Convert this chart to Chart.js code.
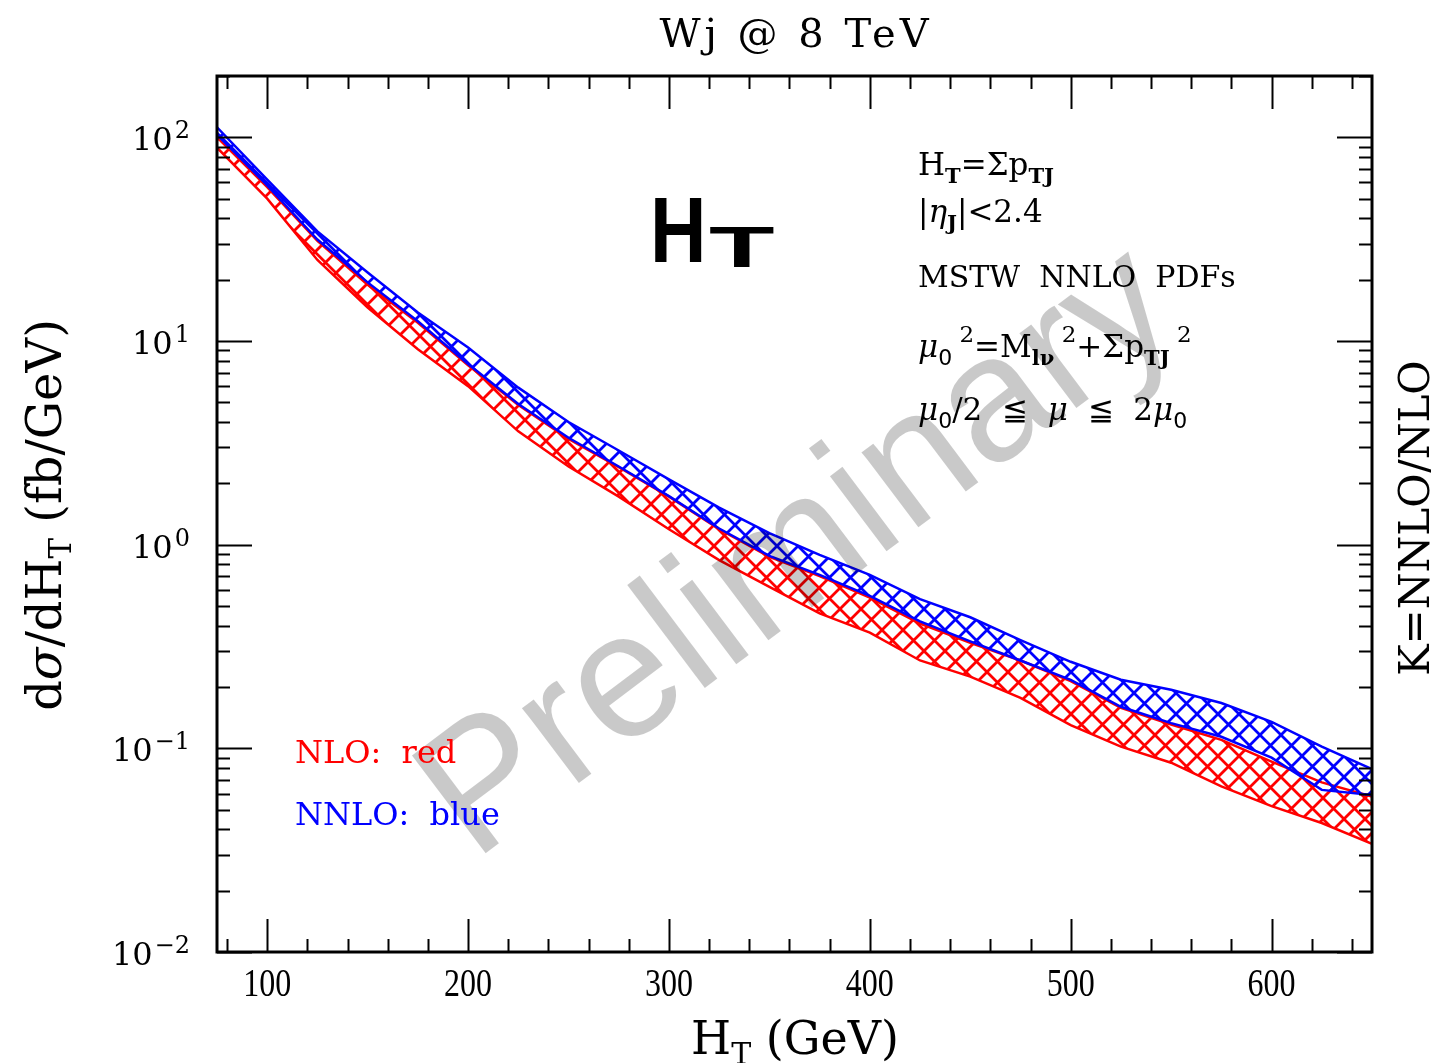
<!DOCTYPE html>
<html>
<head>
<meta charset="utf-8">
<title>Wj @ 8 TeV</title>
<script src="https://cdn.jsdelivr.net/npm/chart.js@4.4.1/dist/chart.umd.min.js"></script>
<style>
  html, body { margin: 0; padding: 0; background: #fff; }
  canvas { display: block; }
</style>
</head>
<body>
<canvas id="ht" width="1431" height="1063"></canvas>
<script>
// H_T nodes (GeV) and the scale-variation envelopes (fb/GeV)
const htPoints = [75, 100, 125, 150, 175, 200, 225, 250, 275, 300, 325, 350,
                  375, 400, 425, 450, 475, 500, 525, 550, 575, 600, 625, 650];
const nnloHigh = [112, 62, 34.5, 21.7, 13.8, 9.3, 5.9, 4.0, 2.9, 2.09, 1.52, 1.14,
                  0.89, 0.71, 0.54, 0.44, 0.34, 0.266, 0.217, 0.194, 0.167, 0.135, 0.102, 0.079];
const nnloLow  = [103, 58, 31.5, 19.4, 12.5, 7.7, 4.9, 3.35, 2.42, 1.73, 1.2, 0.88,
                  0.71, 0.56, 0.42, 0.335, 0.27, 0.217, 0.16, 0.133, 0.114, 0.09, 0.0625, 0.059];
const nloHigh  = [100, 57, 31, 18.9, 12.3, 7.6, 4.85, 3.3, 2.4, 1.72, 1.19, 0.87,
                  0.7, 0.55, 0.41, 0.33, 0.27, 0.214, 0.158, 0.131, 0.11, 0.086, 0.068, 0.058];
const nloLow   = [89, 50, 25, 14.6, 9.1, 6.0, 3.6, 2.42, 1.72, 1.19, 0.84, 0.62,
                  0.46, 0.37, 0.27, 0.225, 0.177, 0.13, 0.102, 0.085, 0.065, 0.052, 0.043, 0.034];

const xTickLabels = [100, 200, 300, 400, 500, 600];
const yDecades = [-2, -1, 0, 1, 2];

const RED = '#ff0000';
const BLUE = '#0000ff';
const SERIF = '"DejaVu Serif"';

function pts(ys) {
    return htPoints.map((x, i) => ({ x: x, y: ys[i] }));
}

// 45 degree cross hatch used to fill the bands
function hatch(color) {
    const s = 21;
    const c = document.createElement('canvas');
    c.width = s;
    c.height = s;
    const g = c.getContext('2d');
    g.strokeStyle = color;
    g.lineWidth = 2.8;
    for (const k of [-s, 0, s]) {
        g.beginPath();
        g.moveTo(k, 0);
        g.lineTo(k + s, s);
        g.moveTo(k + s, 0);
        g.lineTo(k, s);
        g.stroke();
    }
    return g.createPattern(c, 'repeat');
}

// draws a list of [text, font, dy] pieces one after another
function runs(ctx, x, y, parts) {
    for (const [t, f, dy] of parts) {
        ctx.font = f;
        ctx.fillText(t, x, y + (dy || 0));
        x += ctx.measureText(t).width;
    }
    return x;
}

function runsWidth(ctx, parts) {
    let w = 0;
    for (const [t, f] of parts) {
        ctx.font = f;
        w += ctx.measureText(t).width;
    }
    return w;
}

function seg(ctx, x1, y1, x2, y2) {
    ctx.beginPath();
    ctx.moveTo(x1, y1);
    ctx.lineTo(x2, y2);
    ctx.stroke();
}

const watermark = {
    id: 'watermark',
    afterDatasetsDraw(chart) {
        const ctx = chart.ctx;
        ctx.save();
        ctx.translate(800, 555);
        ctx.rotate(-37 * Math.PI / 180);
        ctx.font = '178px "Liberation Sans"';
        ctx.fillStyle = 'rgba(0,0,0,0.21)';
        ctx.textAlign = 'center';
        ctx.textBaseline = 'middle';
        ctx.fillText('Preliminary', 0, 0);
        ctx.restore();
    }
};

const frame = {
    id: 'frame',
    afterDraw(chart) {
        const ctx = chart.ctx;
        const { left, right, top, bottom } = chart.chartArea;
        const xs = chart.scales.x;
        const ys = chart.scales.y;
        ctx.save();
        ctx.strokeStyle = '#000';
        ctx.fillStyle = '#000';

        // inward ticks on all four sides
        ctx.lineWidth = 2;
        for (let v = 80; v <= 640; v += 20) {
            const px = Math.round(xs.getPixelForValue(v)) + 0.5;
            const len = v % 100 === 0 ? 33 : 13;
            seg(ctx, px, bottom, px, bottom - len);
            seg(ctx, px, top, px, top + len);
        }
        for (const d of yDecades) {
            for (let m = 1; m <= 9; m++) {
                const v = m * Math.pow(10, d);
                if (v > ys.max) break;
                const py = Math.round(ys.getPixelForValue(v)) + 0.5;
                const len = m === 1 ? 35 : 13;
                seg(ctx, left, py, left + len, py);
                seg(ctx, right, py, right - len, py);
            }
        }
        ctx.lineWidth = 3;
        ctx.strokeRect(left, top, right - left, bottom - top);

        // x tick labels
        ctx.textBaseline = 'alphabetic';
        ctx.textAlign = 'center';
        for (const v of xTickLabels) {
            const px = xs.getPixelForValue(v);
            ctx.save();
            ctx.translate(px, 996);
            ctx.scale(0.8, 1);
            ctx.font = '40px "Liberation Serif"';
            ctx.fillText(String(v), 0, 0);
            ctx.restore();
        }

        // y tick labels 10^n
        ctx.textAlign = 'right';
        for (const d of yDecades) {
            const py = ys.getPixelForValue(Math.pow(10, d));
            const sup = d < 0 ? '\u2212' + (-d) : String(d);
            ctx.font = '24px ' + SERIF;
            const sw = ctx.measureText(sup).width;
            ctx.fillText(sup, 190, py + 1);
            ctx.font = '32px ' + SERIF;
            ctx.fillText('10', 190 - sw - 2, py + 13);
        }
        ctx.textAlign = 'left';

        // title
        ctx.font = '40px ' + SERIF;
        ctx.letterSpacing = '4px';
        ctx.textAlign = 'center';
        ctx.fillText('Wj @ 8 TeV', 796, 47);
        ctx.letterSpacing = '0px';
        ctx.textAlign = 'left';

        // x axis title
        const xt = [['H', '46px ' + SERIF], ['T', '30px ' + SERIF, 10], [' (GeV)', '46px ' + SERIF]];
        runs(ctx, 795 - runsWidth(ctx, xt) / 2, 1054, xt);

        // y axis title
        const yt = [['d', '48px ' + SERIF], ['\u03c3', 'italic 48px ' + SERIF], ['/dH', '48px ' + SERIF],
                    ['T', '31px ' + SERIF, 10], [' (fb/GeV)', '48px ' + SERIF]];
        ctx.save();
        ctx.translate(61, 515);
        ctx.rotate(-Math.PI / 2);
        runs(ctx, -runsWidth(ctx, yt) / 2, 0, yt);
        ctx.restore();

        // right axis title
        ctx.save();
        ctx.translate(1429, 518);
        ctx.rotate(-Math.PI / 2);
        ctx.font = '42px ' + SERIF;
        ctx.textAlign = 'center';
        ctx.fillText('K=NNLO/NLO', 0, 0);
        ctx.restore();

        // big H_T label
        ctx.save();
        ctx.translate(650, 262);
        ctx.scale(0.85, 1);
        ctx.font = 'bold 92px "Liberation Sans"';
        ctx.fillText('H', 0, 0);
        ctx.restore();
        ctx.save();
        ctx.translate(709, 267);
        ctx.scale(1.85, 1);
        ctx.font = 'bold 58px "Liberation Sans"';
        ctx.fillText('T', 0, 0);
        ctx.restore();

        // run parameters
        const main = '31px ' + SERIF;
        const ital = 'italic 31px ' + SERIF;
        const sub = 'bold 21px ' + SERIF;
        const num = '22px "DejaVu Sans"';
        const sup = '23px ' + SERIF;
        runs(ctx, 918, 175, [['H', main], ['T', sub, 8], ['=\u03a3p', main], ['TJ', sub, 8]]);
        runs(ctx, 918, 222, [['|', main], ['\u03b7', ital], ['J', sub, 8], ['|<2.4', main]]);
        runs(ctx, 918, 287, [['MSTW  NNLO  PDFs', '30px ' + SERIF]]);
        runs(ctx, 918, 357, [['\u03bc', ital], ['0', num, 8], [' 2', sup, -15], ['=M', main],
                             ['l\u03bd', sub, 8], [' 2', sup, -15], ['+\u03a3p', main],
                             ['TJ', sub, 8], [' 2', sup, -15]]);
        runs(ctx, 918, 420, [['\u03bc', ital], ['0', num, 8], ['/2  \u2266  ', main], ['\u03bc', ital],
                             ['  \u2266  2', main], ['\u03bc', ital], ['0', num, 8]]);

        // legend text
        ctx.font = '32px ' + SERIF;
        ctx.fillStyle = RED;
        ctx.fillText('NLO:  red', 295, 763);
        ctx.fillStyle = BLUE;
        ctx.fillText('NNLO:  blue', 295, 825);
        ctx.restore();
    }
};

const ctx = document.getElementById('ht').getContext('2d');

new Chart(ctx, {
    type: 'line',
    data: {
        datasets: [
            { label: 'NNLO high', data: pts(nnloHigh), borderColor: BLUE, fill: false },
            { label: 'NNLO low', data: pts(nnloLow), borderColor: BLUE, fill: '-1', backgroundColor: hatch(BLUE) },
            { label: 'NLO high', data: pts(nloHigh), borderColor: RED, fill: false },
            { label: 'NLO low', data: pts(nloLow), borderColor: RED, fill: '-1', backgroundColor: hatch(RED) }
        ]
    },
    options: {
        responsive: false,
        animation: false,
        devicePixelRatio: 1,
        layout: { padding: { left: 217, right: 59, top: 76, bottom: 111 } },
        elements: {
            line: { borderWidth: 2.5, tension: 0 },
            point: { radius: 0 }
        },
        scales: {
            x: { type: 'linear', min: 75, max: 650, display: false },
            y: { type: 'logarithmic', min: 0.01, max: 200, display: false }
        },
        plugins: {
            legend: { display: false },
            tooltip: { enabled: false }
        }
    },
    plugins: [watermark, frame]
});
</script>
</body>
</html>
